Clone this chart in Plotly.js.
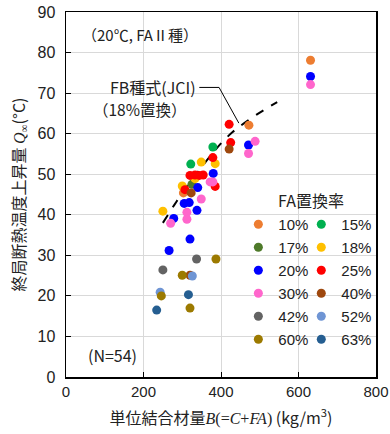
<!DOCTYPE html>
<html><head><meta charset="utf-8">
<script src="https://cdn.plot.ly/plotly-3.0.1.min.js"></script>
<style>body{margin:0;background:#fff}#c{width:390px;height:434px}</style>
</head><body><div id="c"></div>
<script>
// FA replacement ratio series: unit binder content B (kg/m3) and Q∞ (°C)
const seriesNames = ['10%','15%','17%','18%','20%','25%','30%','40%','42%','52%','60%','63%'];
const seriesColors = ['#ED7D31','#00B050','#4E7A2A','#FFC000','#0000FF','#FF0000','#FF66CC','#9E480E','#636363','#6F95D4','#9C7A00','#255E91'];
const b10 = [631,472,303],           q10 = [78.1,62.1,45.4];
const b15 = [379,322],               q15 = [56.7,52.5];
const b17 = [325],                   q17 = [47.5];
const b18 = [385,349,300,250,333],   q18 = [52.6,53.0,47.1,40.9,48.9];
const b20 = [631,471,380,340,305,318,338,278,320,266], q20 = [74.1,57.2,50.2,46.7,42.8,43.0,41.1,39.1,34.0,31.2];
const b25 = [421,425,379,320,333,344,354,385,307],     q25 = [62.3,57.8,54.1,49.7,49.8,49.7,49.8,47.0,46.2];
const b30 = [631,488,471,372,379,349,312,312,270],     q30 = [72.1,58.1,55.1,48.1,48.1,43.9,40.6,38.9,37.9];
const b40 = [421,323,320],           q40 = [56.2,45.4,25.1];
const b42 = [337,250],               q42 = [29.1,26.4];
const b52 = [326,243],               q52 = [24.9,20.9];
const b60 = [387,300,246,320],       q60 = [29.1,25.1,20.0,17.0];
const b63 = [316,234],               q63 = [20.3,16.5];
// FB-type equation (JCI), 18% replacement
const fbB = [250,280,310,340,370,400,430,460,500,545];
const fbQ = [38.0,42.5,46.8,50.5,54.2,57.6,60.4,62.6,65.2,67.8];

const bs = [b10,b15,b17,b18,b20,b25,b30,b40,b42,b52,b60,b63];
const qs = [q10,q15,q17,q18,q20,q25,q30,q40,q42,q52,q60,q63];
const leftCol = ['10%','17%','20%','30%','42%','60%'];

const FONT = 'Liberation Sans, Arial, Noto Sans CJK JP, sans-serif';
const JFONT = 'Noto Sans CJK JP, Liberation Sans, sans-serif';

const traces = [{
  x: fbB, y: fbQ, mode: 'lines', type: 'scatter', showlegend: false,
  line: {color: '#000', width: 2, dash: 'dash', shape: 'spline'}, hoverinfo: 'skip'
}];
seriesNames.forEach((n, i) => {
  traces.push({
    x: bs[i], y: qs[i], name: n, type: 'scatter', mode: 'markers',
    marker: {color: seriesColors[i], size: 9},
    legend: leftCol.includes(n) ? 'legend' : 'legend2',
    legendgroup: 'g' + i
  });
});

const legendCommon = {
  bgcolor: 'rgba(0,0,0,0)', borderwidth: 0, font: {family: FONT, size: 15, color: '#222'},
  xanchor: 'left', yanchor: 'top', tracegroupgap: 0.5, itemwidth: 30
};

const layout = {
  width: 390, height: 434,
  margin: {l: 66, r: 14, t: 12, b: 57},
  paper_bgcolor: '#fff', plot_bgcolor: '#fff',
  font: {family: FONT, size: 15, color: '#222'},
  xaxis: {
    range: [0, 800], dtick: 200, tick0: 0,
    showgrid: true, gridcolor: '#D9D9D9', gridwidth: 1,
    zeroline: false, showline: true, linecolor: '#000', linewidth: 1.5, mirror: true,
    ticks: 'inside', ticklen: 5, tickcolor: '#000',
    tickfont: {family: FONT, size: 15, color: '#222'},
    title: {text: '単位結合材量<span style="font-family:Liberation Serif,serif"><i>B</i>(=<i>C</i>+<i>FA</i>)</span> (kg/m<sup>3</sup>)',
            font: {family: JFONT, size: 16, color: '#222'}, standoff: 14}
  },
  yaxis: {
    range: [0, 90], dtick: 10, tick0: 0,
    showgrid: true, gridcolor: '#D9D9D9', gridwidth: 1,
    zeroline: false, showline: true, linecolor: '#000', linewidth: 1.5, mirror: true,
    ticks: 'inside', ticklen: 5, tickcolor: '#000',
    tickfont: {family: FONT, size: 16, color: '#222'},
    ticklabelstandoff: 6,
    title: {text: '終局断熱温度上昇量 <span style="font-family:Liberation Serif,serif"><i>Q</i><sub>∞</sub></span>(°C)',
            font: {family: JFONT, size: 16, color: '#222'}, standoff: 8}
  },
  legend: Object.assign({x: 0.556, y: 0.463}, legendCommon),
  legend2: Object.assign({x: 0.759, y: 0.463}, legendCommon),
  annotations: [
    {xref: 'paper', yref: 'paper', x: 0.045, y: 0.937, xanchor: 'left', yanchor: 'middle',
     text: '（20℃, FAⅡ種）', showarrow: false, font: {family: JFONT, size: 15, color: '#222'}},
    {xref: 'x', yref: 'y', x: 340, y: 71.4, xanchor: 'right', yanchor: 'middle',
     text: 'FB種式(JCI)', showarrow: false, font: {family: JFONT, size: 16, color: '#222'}},
    {xref: 'x', yref: 'y', x: 316, y: 66.2, xanchor: 'right', yanchor: 'middle',
     text: '（18%置換）', showarrow: false, font: {family: JFONT, size: 15.5, color: '#222'}},
    {xref: 'x', yref: 'y', x: 632, y: 43.6, xanchor: 'center', yanchor: 'middle',
     text: 'FA置換率', showarrow: false, font: {family: JFONT, size: 16, color: '#222'}},
    {xref: 'paper', yref: 'paper', x: 0.065, y: 0.06, xanchor: 'left', yanchor: 'middle',
     text: '(N=54)', showarrow: false, font: {family: JFONT, size: 16, color: '#222'}}
  ],
  shapes: [
    {type: 'path', xref: 'x', yref: 'y', path: 'M 344,71.4 L 395,71.4 L 446,62.6',
     line: {color: '#000', width: 1}},
    {type: 'rect', xref: 'paper', yref: 'paper', x0: 0.61, x1: 0.968, y0: 0.074, y1: 0.44,
     fillcolor: '#fff', line: {width: 0}, layer: 'between'}
  ]
};

Plotly.newPlot('c', traces, layout, {displayModeBar: false, staticPlot: true});
</script></body></html>
